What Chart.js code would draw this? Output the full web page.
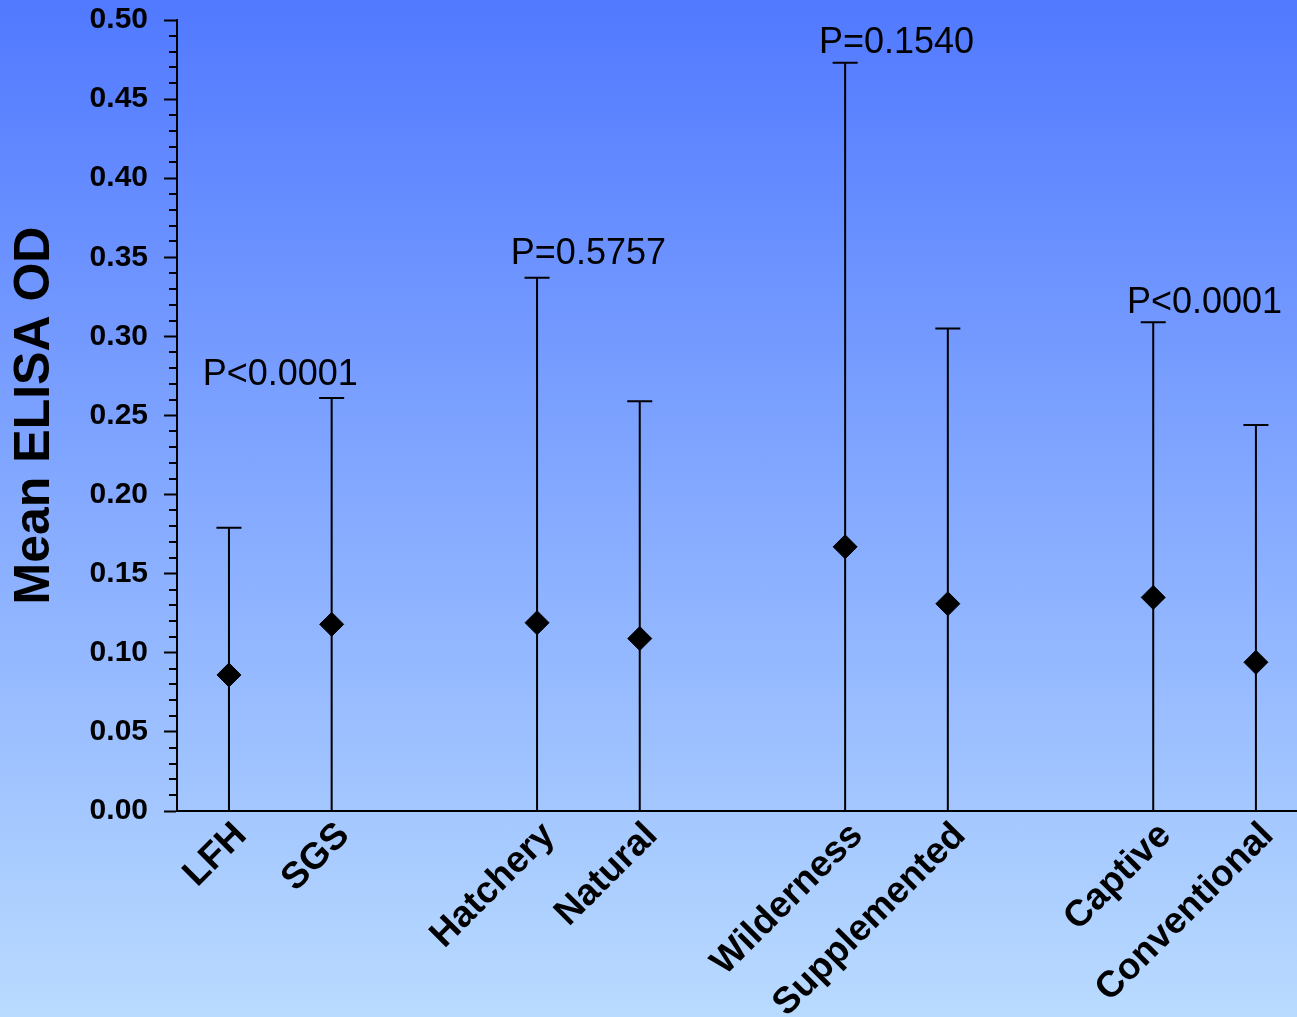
<!DOCTYPE html>
<html><head><meta charset="utf-8">
<script src="https://cdn.jsdelivr.net/npm/chart.js@4.4.1/dist/chart.umd.min.js"></script>
<style>
html,body{margin:0;padding:0;}
#wrap{width:1297px;height:1017px;background:linear-gradient(to bottom,#5179ff 0%,#b9dbff 100%);position:relative;overflow:hidden;}
canvas{display:block;}
</style></head><body>
<div id="wrap"><canvas id="c" width="1297" height="1017"></canvas></div>
<script>
// ---- data ----
const categories = ['LFH', 'SGS', 'Hatchery', 'Natural', 'Wilderness', 'Supplemented', 'Captive', 'Conventional'];
const positions = [0, 1, 3, 4, 6, 7, 9, 10];
const means = [0.086, 0.118, 0.119, 0.109, 0.167, 0.131, 0.135, 0.094];
const upperLimits = [0.179, 0.261, 0.337, 0.259, 0.473, 0.305, 0.309, 0.244];
const lowerLimits = [0, 0, 0, 0, 0, 0, 0, 0];
const pLabels = ['P<0.0001', 'P=0.5757', 'P=0.1540', 'P<0.0001'];
const pLabelPositions = [0.5, 3.5, 6.5, 9.5];
const pLabelHeights = [0.269, 0.346, 0.479, 0.315];
const yMin = 0, yMax = 0.5, yStep = 0.05, yMinorStep = 0.01;

const FONT = "'Liberation Sans', Arial, sans-serif";

const errorBarPlugin = {
  id: 'errorBars',
  beforeDatasetsDraw(chart) {
    const {ctx, scales: {x, y}} = chart;
    ctx.save();
    ctx.strokeStyle = '#000';
    ctx.lineWidth = 2;
    positions.forEach((p, i) => {
      const px = x.getPixelForValue(p);
      const yTop = y.getPixelForValue(upperLimits[i]);
      const yBot = y.getPixelForValue(lowerLimits[i]);
      ctx.beginPath();
      ctx.moveTo(px, yBot); ctx.lineTo(px, yTop);
      ctx.moveTo(px - 12.5, yTop); ctx.lineTo(px + 12.5, yTop);
      ctx.stroke();
    });
    // minor ticks on y axis
    const n = Math.round((yMax - yMin) / yMinorStep);
    const perMajor = Math.round(yStep / yMinorStep);
    ctx.beginPath();
    for (let k = 0; k <= n; k++) {
      if (k % perMajor === 0) continue;
      const py = Math.round(y.getPixelForValue(yMin + k * yMinorStep));
      ctx.moveTo(y.right - 8, py); ctx.lineTo(y.right, py);
    }
    ctx.stroke();
    // P value labels
    ctx.fillStyle = '#000';
    ctx.font = '36px ' + FONT;
    ctx.textAlign = 'center';
    ctx.textBaseline = 'alphabetic';
    pLabels.forEach((t, i) => {
      ctx.fillText(t, x.getPixelForValue(pLabelPositions[i]), y.getPixelForValue(pLabelHeights[i]));
    });
    ctx.restore();
  }
};

new Chart(document.getElementById('c'), {
  type: 'scatter',
  data: {
    datasets: [{
      data: positions.map((p, i) => ({x: p, y: means[i]})),
      pointStyle: 'rectRot',
      pointRadius: 12,
      pointHoverRadius: 12,
      backgroundColor: '#000',
      borderColor: '#000',
      borderWidth: 1,
      showLine: false,
      clip: false
    }]
  },
  options: {
    responsive: false,
    animation: false,
    events: [],
    layout: {autoPadding: false, padding: {top: 20, left: 0, right: 0, bottom: 0}},
    plugins: {legend: {display: false}, tooltip: {enabled: false}},
    scales: {
      x: {
        type: 'linear',
        min: -0.506,
        max: 10.4,
        afterBuildTicks: (s) => { s.ticks = positions.map(v => ({value: v})); },
        afterFit: (s) => { s.height = 206; s.paddingLeft = 0; s.paddingRight = 0; },
        grid: {display: false, drawTicks: false},
        border: {display: true, color: '#000', width: 2},
        ticks: {
          autoSkip: false,
          minRotation: 45,
          maxRotation: 45,
          padding: 3,
          labelOffset: 12,
          color: '#000',
          font: {family: FONT, size: 37, weight: 'bold'},
          callback: (v) => { const i = positions.indexOf(v); return i >= 0 ? categories[i] : ''; }
        }
      },
      y: {
        min: yMin,
        max: yMax,
        afterFit: (s) => { s.width = 177; s.paddingTop = 0; s.paddingBottom = 0; },
        grid: {drawOnChartArea: false, drawTicks: true, tickLength: 13, tickColor: '#000', tickWidth: 2},
        border: {display: true, color: '#000', width: 2},
        title: {display: true, text: 'Mean ELISA OD', color: '#000', font: {family: FONT, size: 50, weight: 'bold'}, padding: {top: 5, bottom: 0}},
        ticks: {
          stepSize: yStep,
          padding: 16,
          color: '#000',
          font: {family: FONT, size: 30, weight: 'bold'},
          callback: (v) => Number(v).toFixed(2)
        }
      }
    }
  },
  plugins: [errorBarPlugin]
});
</script>
</body></html>
